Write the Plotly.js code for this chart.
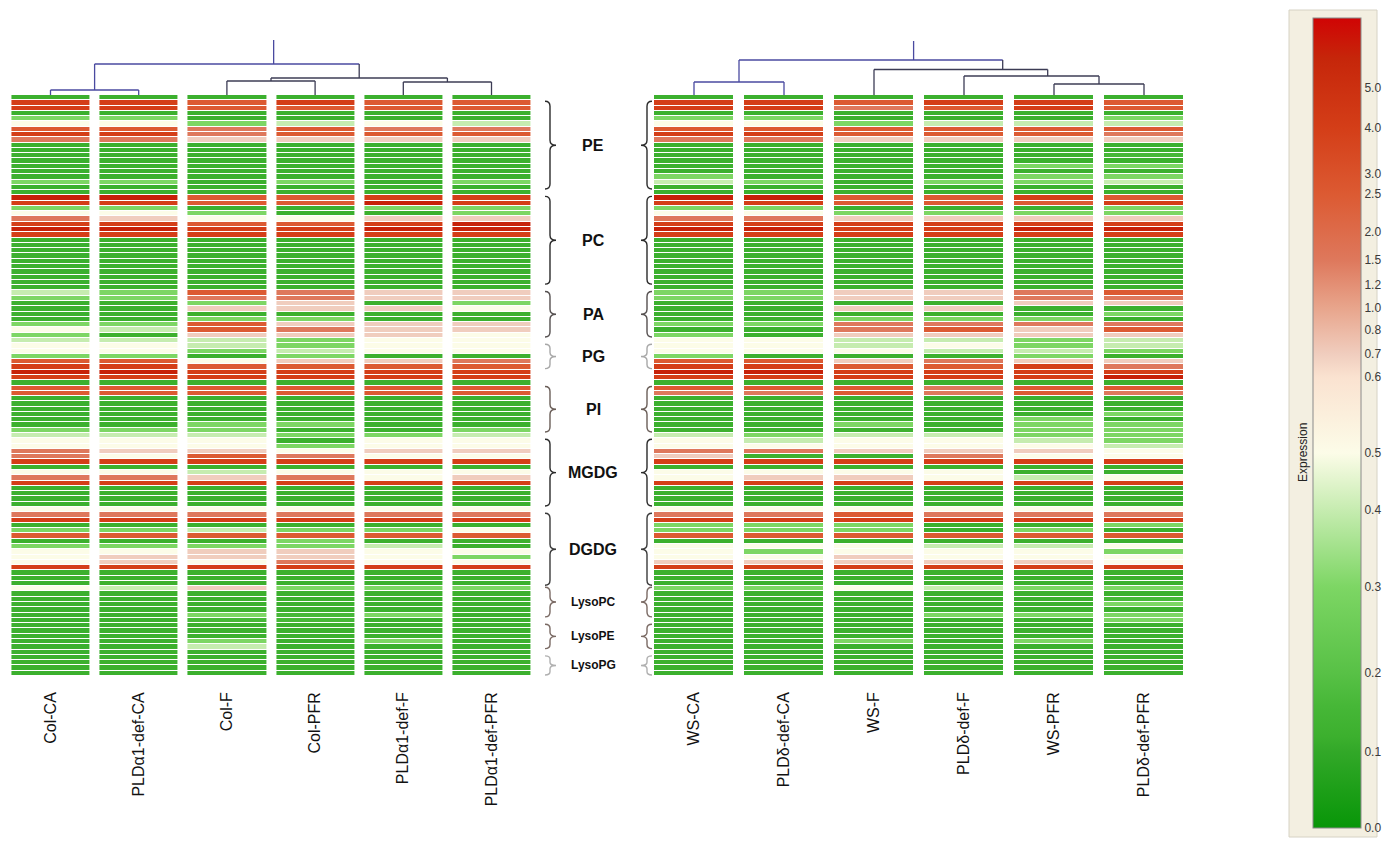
<!DOCTYPE html>
<html><head><meta charset="utf-8">
<script src="https://cdn.plot.ly/plotly-3.0.1.min.js"></script>
<style>html,body{margin:0;padding:0;background:#fff;}#chart{width:1382px;height:855px;}</style>
</head><body><div id="chart"></div>
<script>
// ---------- DATA ----------
const leftSamples  = ["Col-CA","PLDα1-def-CA","Col-F","Col-PFR","PLDα1-def-F","PLDα1-def-PFR"];
const rightSamples = ["WS-CA","PLDδ-def-CA","WS-F","PLDδ-def-F","WS-PFR","PLDδ-def-PFR"];
const lipidClasses = ["PE","PC","PA","PG","PI","MGDG","DGDG","LysoPC","LysoPE","LysoPG"];
const classStartRow = [1,19,37,47,55,65,79,93,100,106];
const classEndRow   = [18,36,46,52,64,78,93,99,105,110];
// colour-bar scale: labelled expression values
const scaleValues = [0,0.1,0.2,0.3,0.4,0.5,0.6,0.7,0.8,1.0,1.2,1.5,2.0,2.5,3.0,4.0,5.0,6.0];

// expression per lipid species (rows, top to bottom) for each sample
const colCA = [0.12,4,4,0.12,0.3,0.5,2.5,4,1.5,0.12, 0.12,0.12,0.12,0.12,0.12,0.12,0.3,0.12,0.12,5.5, 4,0.3,0.5,1.5,4,5.5,4,0.12,0.12,0.12, 0.12,0.12,0.12,0.12,0.12,0.12,0.12,0.4,0.3,0.12, 0.12,0.12,0.12,0.3,0.5,0.3,0.4,0.5,0.5,0.3, 2.5,4,5.5,4,0.12,2.5,2.5,0.12,0.12,0.12, 0.12,0.12,0.12,0.3,0.4,0.5,0.5,1.5,1.5,4, 0.12,0.5,1.5,4,0.12,0.12,0.12,0.12,0.5,1.5, 4,0.12,0.3,2.5,0.12,0.3,0.5,0.5,0.5,4, 0.12,0.12,0.12,0.5,0.12,0.12,0.12,0.12,0.12,0.12, 0.12,0.12,0.12,0.12,0.12,0.12,0.12,0.12,0.12,0.12];
const pldA1CA = [0.12,4,4,0.12,0.3,0.5,2.5,4,1.5,0.12, 0.12,0.12,0.12,0.12,0.12,0.12,0.3,0.12,0.12,5.5, 4,0.3,0.5,0.7,4,5.5,4,0.12,0.12,0.12, 0.12,0.12,0.12,0.12,0.12,0.12,0.12,0.3,0.3,0.12, 0.12,0.12,0.12,0.3,0.4,0.12,0.4,0.5,0.5,0.3, 2.5,4,5.5,4,0.12,2.5,2.5,0.12,0.12,0.12, 0.12,0.12,0.12,0.3,0.4,0.5,0.5,0.7,0.5,4, 0.12,0.5,1.5,4,0.12,0.12,0.12,0.12,0.5,1.5, 4,0.12,0.3,2.5,0.12,0.3,0.5,0.7,0.7,4, 0.12,0.12,0.12,0.4,0.12,0.12,0.12,0.12,0.12,0.12, 0.12,0.12,0.12,0.12,0.12,0.12,0.12,0.12,0.12,0.12];
const colF = [0.12,2.5,2.5,0.12,0.12,0.3,1.5,1.5,0.7,0.12, 0.12,0.12,0.12,0.12,0.12,0.12,0.12,0.12,0.12,2.5, 2.5,0.12,0.3,0.5,2.5,4,4,0.12,0.12,0.12, 0.12,0.12,0.12,0.12,0.12,0.12,0.12,2.5,1.5,0.3, 0.7,0.12,0.3,2.5,2.5,0.7,0.4,0.4,0.3,0.12, 0.5,2.5,4,4,0.12,2.5,2.5,0.12,0.12,0.12, 0.12,0.12,0.3,0.3,0.4,0.5,0.5,0.7,2.5,4, 0.12,0.4,0.7,4,0.12,0.12,0.12,0.12,0.5,1.5, 4,0.12,0.4,2.5,0.12,0.3,0.7,0.7,0.5,4, 0.12,0.12,0.12,0.7,0.12,0.12,0.12,0.12,0.3,0.16, 0.12,0.12,0.12,0.3,0.4,0.12,0.12,0.12,0.12,0.12];
const colPFR = [0.12,4,2.5,0.12,0.12,0.4,2.5,2.5,0.7,0.12, 0.12,0.12,0.12,0.12,0.12,0.12,0.3,0.12,0.12,2.5, 2.5,0.12,0.12,0.5,2.5,4,4,0.12,0.12,0.12, 0.12,0.12,0.12,0.12,0.12,0.12,0.12,1.5,1.5,0.7, 0.7,0.12,0.3,0.7,1.5,0.7,0.3,0.3,0.4,0.3, 0.7,2.5,4,4,0.12,2.5,2.5,0.12,0.12,0.12, 0.12,0.12,0.3,0.12,0.3,0.12,0.3,0.5,1.5,4, 0.12,0.5,1.5,4,0.12,0.12,0.12,0.12,0.5,1.5, 4,0.12,0.3,2.5,0.3,0.3,0.7,0.7,1.5,4, 0.12,0.12,0.12,0.3,0.12,0.12,0.12,0.12,0.16,0.16, 0.12,0.12,0.12,0.12,0.12,0.12,0.12,0.12,0.12,0.12];
const pldA1F = [0.12,2.5,2.5,0.12,0.12,0.5,1.5,2.5,0.7,0.12, 0.12,0.12,0.12,0.12,0.12,0.12,0.12,0.12,0.12,4, 5.5,0.3,0.12,0.7,4,5.5,4,0.12,0.12,0.12, 0.12,0.12,0.12,0.12,0.12,0.12,0.12,0.7,0.7,0.12, 0.7,0.12,0.12,0.7,0.7,0.7,0.5,0.5,0.5,0.12, 0.7,2.5,4,4,0.12,2.5,2.5,0.12,0.12,0.12, 0.12,0.12,0.12,0.12,0.3,0.5,0.5,0.7,0.5,4, 0.12,0.5,0.5,4,0.12,0.12,0.12,0.12,0.5,1.5, 4,0.12,0.3,2.5,0.12,0.4,0.5,0.5,0.5,4, 0.12,0.12,0.12,0.3,0.12,0.12,0.12,0.12,0.3,0.12, 0.12,0.12,0.12,0.3,0.12,0.12,0.12,0.12,0.12,0.12];
const pldA1PFR = [0.12,2.5,2.5,0.12,0.12,0.4,1.5,2.5,0.7,0.12, 0.12,0.12,0.12,0.12,0.12,0.12,0.3,0.12,0.12,4, 4,0.3,0.3,0.7,5.5,5.5,4,0.12,0.12,0.12, 0.12,0.12,0.12,0.12,0.12,0.12,0.12,0.7,0.7,0.3, 0.5,0.12,0.12,0.7,0.7,0.5,0.5,0.5,0.5,0.12, 1.5,2.5,4,4,0.12,2.5,2.5,0.12,0.12,0.12, 0.12,0.12,0.12,0.3,0.4,0.5,0.5,0.7,0.5,4, 0.12,0.5,0.7,4,0.12,0.12,0.12,0.12,0.5,1.5, 4,0.12,0.5,2.5,0.12,0.12,0.5,0.3,0.5,4, 0.12,0.12,0.12,0.3,0.12,0.12,0.12,0.12,0.12,0.12, 0.12,0.12,0.12,0.12,0.12,0.12,0.12,0.12,0.12,0.12];
const wsCA = [0.12,4,4,0.12,0.3,0.5,2.5,4,1.5,0.12, 0.12,0.12,0.12,0.12,0.12,0.3,0.4,0.12,0.12,5.5, 4,0.3,0.5,1.5,4,5.5,4,0.12,0.12,0.12, 0.12,0.12,0.12,0.12,0.12,0.12,0.12,0.3,0.3,0.12, 0.12,0.12,0.12,0.3,0.12,0.3,0.5,0.5,0.5,0.3, 2.5,4,5.5,4,0.12,2.5,1.5,0.12,0.12,0.12, 0.12,0.12,0.12,0.12,0.4,0.5,0.5,1.5,0.7,4, 0.12,0.5,0.5,4,0.12,0.12,0.12,0.12,0.5,1.5, 4,0.3,0.3,2.5,0.12,0.5,0.5,0.5,0.7,4, 0.12,0.12,0.12,0.3,0.12,0.12,0.12,0.12,0.12,0.12, 0.12,0.12,0.12,0.12,0.12,0.12,0.12,0.12,0.12,0.12];
const pldDCA = [0.12,4,4,0.12,0.3,0.5,2.5,4,1.5,0.12, 0.12,0.12,0.12,0.12,0.12,0.12,0.3,0.12,0.12,5.5, 4,0.3,0.5,1.5,4,5.5,4,0.12,0.12,0.12, 0.12,0.12,0.12,0.12,0.12,0.12,0.12,0.3,0.3,0.12, 0.12,0.12,0.12,0.3,0.12,0.12,0.5,0.5,0.5,0.12, 2.5,4,5.5,4,0.12,2.5,1.5,0.12,0.12,0.12, 0.12,0.12,0.12,0.12,0.3,0.4,0.5,1.5,0.12,4, 0.12,0.5,0.7,4,0.12,0.12,0.12,0.12,0.5,1.5, 4,0.3,0.3,2.5,0.12,0.5,0.3,0.5,0.7,4, 0.12,0.12,0.12,0.3,0.12,0.12,0.12,0.12,0.12,0.12, 0.12,0.12,0.12,0.12,0.12,0.12,0.12,0.12,0.12,0.12];
const wsF = [0.12,2.5,1.5,0.12,0.12,0.3,2.5,2.5,0.7,0.12, 0.12,0.12,0.12,0.12,0.12,0.12,0.12,0.12,0.12,2.5, 2.5,0.12,0.3,0.7,4,4,4,0.12,0.12,0.12, 0.12,0.12,0.12,0.12,0.12,0.12,0.12,0.7,0.7,0.12, 0.7,0.12,0.3,1.5,1.5,0.7,0.4,0.4,0.5,0.12, 0.7,2.5,4,4,0.12,2.5,2.5,0.12,0.12,0.12, 0.12,0.12,0.3,0.12,0.4,0.5,0.5,0.7,0.12,4, 0.12,0.5,0.7,4,0.12,0.12,0.12,0.12,0.5,2.5, 4,0.3,0.3,2.5,0.12,0.5,0.5,0.7,0.7,4, 0.12,0.12,0.12,0.5,0.12,0.12,0.12,0.12,0.12,0.12, 0.12,0.12,0.12,0.3,0.12,0.12,0.12,0.12,0.12,0.12];
const pldDF = [0.12,4,2.5,0.12,0.12,0.4,2.5,2.5,0.7,0.12, 0.12,0.12,0.12,0.12,0.12,0.12,0.3,0.12,0.12,2.5, 2.5,0.12,0.3,0.7,4,4,4,0.12,0.12,0.12, 0.12,0.12,0.12,0.12,0.12,0.12,0.12,0.7,0.7,0.12, 0.7,0.12,0.3,1.5,2.5,0.7,0.4,0.5,0.4,0.12, 1.5,2.5,4,4,0.12,1.5,1.5,0.12,0.12,0.12, 0.12,0.12,0.12,0.12,0.4,0.5,0.5,0.7,1.5,4, 0.12,0.5,0.5,4,0.12,0.12,0.12,0.12,0.5,1.5, 4,0.12,0.12,2.5,0.12,0.4,0.5,0.5,0.7,4, 0.12,0.12,0.12,0.4,0.12,0.12,0.12,0.12,0.3,0.12, 0.12,0.12,0.12,0.12,0.12,0.12,0.12,0.12,0.12,0.12];
const wsPFR = [0.12,4,4,0.12,0.12,0.4,2.5,2.5,0.7,0.12, 0.12,0.12,0.12,0.3,0.12,0.3,0.3,0.12,0.12,4, 2.5,0.12,0.3,0.7,4,5.5,4,0.12,0.12,0.12, 0.12,0.12,0.12,0.12,0.12,0.12,0.12,1.5,1.5,0.7, 0.12,0.12,0.3,1.5,0.7,0.7,0.3,0.3,0.4,0.3, 0.7,4,4,4,0.12,2.5,2.5,0.12,0.12,0.12, 0.12,0.3,0.3,0.3,0.3,0.4,0.5,0.7,0.5,4, 0.12,0.12,0.4,4,0.12,0.12,0.12,0.12,0.5,1.5, 4,0.12,0.3,2.5,0.12,0.4,0.5,0.5,0.7,4, 0.12,0.12,0.12,0.3,0.12,0.12,0.12,0.12,0.3,0.12, 0.12,0.12,0.12,0.3,0.12,0.12,0.12,0.12,0.12,0.12];
const pldDPFR = [0.12,2.5,2.5,0.12,0.3,0.4,2.5,1.5,0.7,0.12, 0.12,0.16,0.12,0.3,0.12,0.3,0.4,0.12,0.12,2.5, 4,0.3,0.3,0.7,4,5.5,4,0.12,0.12,0.12, 0.12,0.12,0.12,0.12,0.12,0.12,0.12,2.5,1.5,0.7, 0.12,0.3,0.12,1.5,2.5,0.7,0.4,0.4,0.3,0.12, 0.7,1.5,4,5.5,0.12,2.5,1.5,0.12,0.12,0.12, 0.3,0.12,0.3,0.3,0.3,0.3,0.4,0.5,0.5,4, 0.12,0.12,0.5,4,0.12,0.12,0.12,0.12,0.5,1.5, 4,0.3,0.12,2.5,0.12,0.5,0.3,0.5,0.5,4, 0.12,0.12,0.12,0.3,0.12,0.16,0.3,0.12,0.3,0.3, 0.12,0.12,0.12,0.12,0.12,0.12,0.12,0.12,0.12,0.12];

// dendrogram links: [x0, y0, x1, y1] in column units / link height
const leftLinks = [[2.53,40,2.53,64],[0.5,64,3.5,64],[0.5,64,0.5,90],[0,90,1,90],[0,90,0,95],[1,90,1,95],
  [3.5,64,3.5,78],[2.5,78,4.5,78],[2.5,78,2.5,81],[2,81,3,81],[2,81,2,95],[3,81,3,95],
  [4.5,78,4.5,82],[4,82,5,82],[4,82,4,95],[5,82,5,95]];
const rightLinks = [[2.44,41,2.44,60],[0.5,60,3.43,60],[0.5,60,0.5,82],[0,82,1,82],[0,82,0,95],[1,82,1,95],
  [3.43,60,3.43,69.5],[2,69.5,3.93,69.5],[2,69.5,2,95],[3.93,69.5,3.93,76],[3,76,4.5,76],[3,76,3,95],
  [4.5,76,4.5,84],[4,84,5,84],[4,84,4,95],[5,84,5,95]];

// ---------- BUILD ----------
const W = 1382, H = 855;
const FONT = "Liberation Sans, Arial, sans-serif";
const scalePos = [0,0.0938,0.1914,0.2975,0.3926,0.4630,0.5568,0.5852,0.6148,0.6420,0.6704,0.7012,0.7358,0.7827,0.8074,0.8642,0.9136,1.0];
function toPos(v){
  for (let i=1;i<scaleValues.length;i++){
    if (v<=scaleValues[i]){
      const t=(v-scaleValues[i-1])/(scaleValues[i]-scaleValues[i-1]);
      return scalePos[i-1]+t*(scalePos[i]-scalePos[i-1]);
    }
  }
  return 1;
}
const colorscale = [
  [0,'rgb(8,150,8)'],[0.0938,'rgb(50,168,40)'],[0.113,'rgb(60,176,46)'],[0.15,'rgb(70,183,55)'],
  [0.1914,'rgb(88,193,70)'],[0.2975,'rgb(125,214,100)'],[0.3926,'rgb(198,236,176)'],
  [0.463,'rgb(252,252,232)'],[0.5568,'rgb(250,226,208)'],[0.5852,'rgb(240,205,190)'],
  [0.642,'rgb(232,165,140)'],[0.7012,'rgb(222,120,92)'],[0.7827,'rgb(220,90,50)'],
  [0.8642,'rgb(212,62,24)'],[0.95,'rgb(198,38,10)'],[1,'rgb(208,4,4)']
];
const leftCols = [colCA,pldA1CA,colF,colPFR,pldA1F,pldA1PFR];
const rightCols = [wsCA,pldDCA,wsF,pldDF,wsPFR,pldDPFR];
const nRows = colCA.length;
const rowIdx = Array.from({length:nRows},(_,i)=>i);
const colIdx = [0,1,2,3,4,5];
const zL = rowIdx.map(r=>leftCols.map(c=>toPos(c[r])));
const zR = rowIdx.map(r=>rightCols.map(c=>toPos(c[r])));

const yTop = 95, yBot = 676;
const yDom = [1-yBot/H, 1-yTop/H];
const px2x = p => p/W, px2y = p => 1-p/H;

const traces = [
  {type:'heatmap', x:colIdx, y:rowIdx, z:zL, xaxis:'x', yaxis:'y', colorscale, zmin:0, zmax:1,
   xgap:10, ygap:1, showscale:false, hoverinfo:'skip'},
  {type:'heatmap', x:colIdx, y:rowIdx, z:zR, xaxis:'x2', yaxis:'y2', colorscale, zmin:0, zmax:1,
   xgap:11, ygap:1, hoverinfo:'skip',
   colorbar:{x:1313/W, xanchor:'left', y:1-423/H, yanchor:'middle', len:810, lenmode:'pixels',
     thickness:48, thicknessmode:'pixels', xpad:0, ypad:0, outlinewidth:1, outlinecolor:'#8a8a8a',
     tickmode:'array', tickvals:scalePos.slice(0,-1), ticktext:scaleValues.slice(0,-1).map(v=>v.toFixed(1)),
     ticks:'', ticklen:0, tickfont:{family:FONT,size:12,color:'#3a3a3a'}, title:{text:''}}}
];

function axisX(dom, labels, anchor){
  return {domain:dom, anchor, range:[-0.5,5.5], tickmode:'array', tickvals:colIdx, ticktext:labels,
    tickangle:-90, ticks:'', ticklabelstandoff:12, showgrid:false, zeroline:false, showline:false,
    tickfont:{family:FONT,size:16,color:'#111'}, fixedrange:true};
}
function axisY(anchor){
  return {domain:yDom, anchor, range:[nRows-0.5,-0.5], showticklabels:false, ticks:'', showgrid:false,
    zeroline:false, showline:false, fixedrange:true};
}

const shapes = [];
shapes.push({type:'rect', xref:'paper', yref:'paper', x0:px2x(1289), x1:px2x(1377), y0:px2y(837), y1:px2y(10),
  fillcolor:'#f3efe1', line:{color:'#d6d2c4', width:1}, layer:'below'});

function addLinks(links, xref, blueCount){
  links.forEach((s,i)=>{
    shapes.push({type:'line', xref, yref:'paper', x0:s[0], x1:s[2], y0:px2y(s[1]), y1:px2y(s[3]),
      line:{color: i<blueCount ? '#4a4aa0' : '#3c3c55', width:1.3}});
  });
}
addLinks(leftLinks,'x',6);
addLinks(rightLinks,'x2',6);

const rowPx = (yBot-yTop)/nRows;
const braceColors = ['#2a2a2a','#2a2a2a','#555050','#a8a8a8','#6a5e58','#2a2a2a','#3a3a3a','#7a6a64','#7a6a64','#b0b0b0'];
function bracePath(xEdge, dir, y0, y1){
  const xs = xEdge+dir*5, xt = xEdge+dir*11, ym=(y0+y1)/2, r=Math.min(5,(y1-y0)/6);
  const P=(x,y)=>px2x(x).toFixed(5)+','+px2y(y).toFixed(5);
  return 'M'+P(xEdge,y0)+' Q'+P(xs,y0)+' '+P(xs,y0+r)+' L'+P(xs,ym-r)+' Q'+P(xs,ym)+' '+P(xt,ym)+
         ' Q'+P(xs,ym)+' '+P(xs,ym+r)+' L'+P(xs,y1-r)+' Q'+P(xs,y1)+' '+P(xEdge,y1);
}
const annotations = [];
lipidClasses.forEach((name,i)=>{
  const y0 = yTop + classStartRow[i]*rowPx + 1, y1 = yTop + classEndRow[i]*rowPx - 1;
  const col = braceColors[i];
  shapes.push({type:'path', xref:'paper', yref:'paper', path:bracePath(545,1,y0,y1), line:{color:col,width:1.4}});
  shapes.push({type:'path', xref:'paper', yref:'paper', path:bracePath(652,-1,y0,y1), line:{color:col,width:1.4}});
  const lyso = name.startsWith('Lyso');
  annotations.push({xref:'paper', yref:'paper', x:px2x(593), y:px2y((y0+y1)/2), text:'<b>'+name+'</b>',
    showarrow:false, xanchor:'center', yanchor:'middle',
    font:{family:FONT, size: lyso?12:16, color:'#111'}});
});
annotations.push({xref:'paper', yref:'paper', x:px2x(1303), y:px2y(453), text:'Expression', textangle:-90,
  showarrow:false, xanchor:'center', yanchor:'middle', font:{family:FONT,size:12,color:'#222'}});

const layout = {
  width:W, height:H, margin:{l:0,r:0,t:0,b:0}, paper_bgcolor:'#ffffff', plot_bgcolor:'rgba(0,0,0,0)',
  showlegend:false,
  xaxis:axisX([6.4/W,535.6/W],leftSamples,'y'),
  yaxis:axisY('x'),
  xaxis2:axisX([649/W,1189/W],rightSamples,'y2'),
  yaxis2:axisY('x2'),
  shapes, annotations
};
Plotly.newPlot('chart', traces, layout, {staticPlot:true, displayModeBar:false});
</script></body></html>
